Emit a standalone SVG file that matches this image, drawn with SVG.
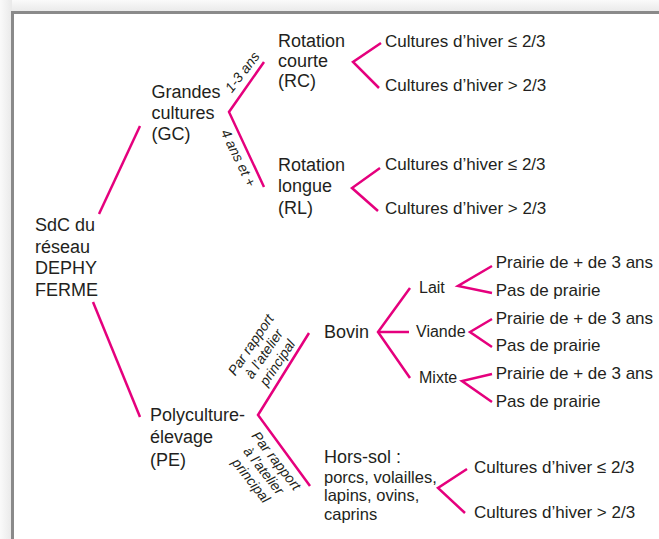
<svg xmlns="http://www.w3.org/2000/svg" width="659" height="539" viewBox="0 0 659 539">
<style>
.t{font-family:"Liberation Sans",Arial,sans-serif;fill:#231f20}
.m{font-size:18px}
.s{font-size:17px}
.l{font-size:16px}
.h{font-size:16.5px}
.r{font-family:"Liberation Sans",Arial,sans-serif;fill:#231f20;font-size:14px;font-style:italic;text-anchor:middle}
.c{fill:none;stroke:#e5007d;stroke-width:2.5;stroke-linecap:butt;stroke-linejoin:miter}
</style>
<defs>
<linearGradient id="gt" x1="0" y1="0" x2="0" y2="1"><stop offset="0" stop-color="#fafafa"/><stop offset="1" stop-color="#e9e9e9"/></linearGradient>
<linearGradient id="gl" x1="0" y1="0" x2="1" y2="0"><stop offset="0" stop-color="#fafafa"/><stop offset="1" stop-color="#e9e9e9"/></linearGradient>
</defs>
<rect x="0" y="0" width="659" height="539" fill="#ffffff"/>
<rect x="0" y="0" width="659" height="12" fill="url(#gt)"/>
<rect x="0" y="0" width="12" height="539" fill="url(#gl)"/>
<rect x="12.5" y="12.5" width="660" height="540" fill="#ffffff" stroke="#8a8a8a" stroke-width="3"/>

<g id="connectors">
<line class="c" x1="99" y1="214" x2="140" y2="126"/>
<line class="c" x1="93" y1="302" x2="140" y2="417"/>
<polyline class="c" points="264,62 229,112 264,187"/>
<polyline class="c" points="381,43 353,62 379,88"/>
<polyline class="c" points="380,168 352,188 378,211"/>
<polyline class="c" points="309,333 258,415 310,486"/>
<polyline class="c" points="410,288 378,332 410,378"/>
<line class="c" x1="378" y1="332" x2="409" y2="332"/>
<polyline class="c" points="492,266 458,286 492,293"/>
<polyline class="c" points="492,319 470,332 492,347"/>
<polyline class="c" points="492,374 462,381 492,402"/>
<polyline class="c" points="467,469 438,488 465,513"/>
<text class="r" transform="translate(246,75) rotate(-52)">1-3 ans</text>
<text class="r" transform="translate(234,160) rotate(64)">4 ans et +</text>
<g transform="translate(268,356.5) rotate(-56)">
<text class="r" x="0" y="-16">Par rapport</text>
<text class="r" x="0" y="0">à l’atelier</text>
<text class="r" x="0" y="16">principal</text>
</g>
<g transform="translate(260,473.5) rotate(52)">
<text class="r" x="0" y="-16">Par rapport</text>
<text class="r" x="0" y="0">à l’atelier</text>
<text class="r" x="0" y="16">principal</text>
</g>
</g>

<g id="root"><text class="t m"><tspan x="35" y="231">SdC du</tspan><tspan x="35" y="252.5">réseau</tspan><tspan x="35" y="274">DEPHY</tspan><tspan x="35" y="295.5">FERME</tspan></text></g>
<g id="gc"><text class="t m"><tspan x="151.5" y="97.5">Grandes</tspan><tspan x="151.5" y="118.7">cultures</tspan><tspan x="151.5" y="140">(GC)</tspan></text></g>
<g id="rc"><text class="t m"><tspan x="278" y="46.7">Rotation</tspan><tspan x="278" y="67">courte</tspan><tspan x="278" y="87.3">(RC)</tspan></text></g>
<g id="rl"><text class="t m"><tspan x="278" y="170.7">Rotation</tspan><tspan x="278" y="192">longue</tspan><tspan x="278" y="213.5">(RL)</tspan></text></g>
<g id="rc1"><text class="t s" x="385" y="46.7">Cultures d’hiver ≤ 2/3</text></g>
<g id="rc2"><text class="t s" x="385" y="90.5">Cultures d’hiver &gt; 2/3</text></g>
<g id="rl1"><text class="t s" x="385" y="170">Cultures d’hiver ≤ 2/3</text></g>
<g id="rl2"><text class="t s" x="385" y="214.3">Cultures d’hiver &gt; 2/3</text></g>
<g id="pe"><text class="t m"><tspan x="150" y="420.7">Polyculture-</tspan><tspan x="150" y="443">élevage</tspan><tspan x="150" y="465.5">(PE)</tspan></text></g>
<g id="bovin"><text class="t m" x="324" y="337.7">Bovin</text></g>
<g id="lait"><text class="t l" x="419" y="292.7">Lait</text></g>
<g id="viande"><text class="t l" x="416" y="336.7">Viande</text></g>
<g id="mixte"><text class="t l" x="419" y="382.7">Mixte</text></g>
<g id="lait1"><text class="t s" x="495.7" y="268.3">Prairie de + de 3 ans</text></g>
<g id="lait2"><text class="t s" x="495.7" y="295.7">Pas de prairie</text></g>
<g id="viande1"><text class="t s" x="495.7" y="324">Prairie de + de 3 ans</text></g>
<g id="viande2"><text class="t s" x="495.7" y="351">Pas de prairie</text></g>
<g id="mixte1"><text class="t s" x="495.7" y="379">Prairie de + de 3 ans</text></g>
<g id="mixte2"><text class="t s" x="495.7" y="406.7">Pas de prairie</text></g>
<g id="horssol"><text class="t"><tspan class="m" x="324" y="462.7">Hors-sol :</tspan><tspan class="h" x="324" y="482.5">porcs, volailles,</tspan><tspan class="h" x="324" y="501">lapins, ovins,</tspan><tspan class="h" x="324" y="519.5">caprins</tspan></text></g>
<g id="hs1"><text class="t s" x="474" y="472.7">Cultures d’hiver ≤ 2/3</text></g>
<g id="hs2"><text class="t s" x="474" y="517.7">Cultures d’hiver &gt; 2/3</text></g>
</svg>
